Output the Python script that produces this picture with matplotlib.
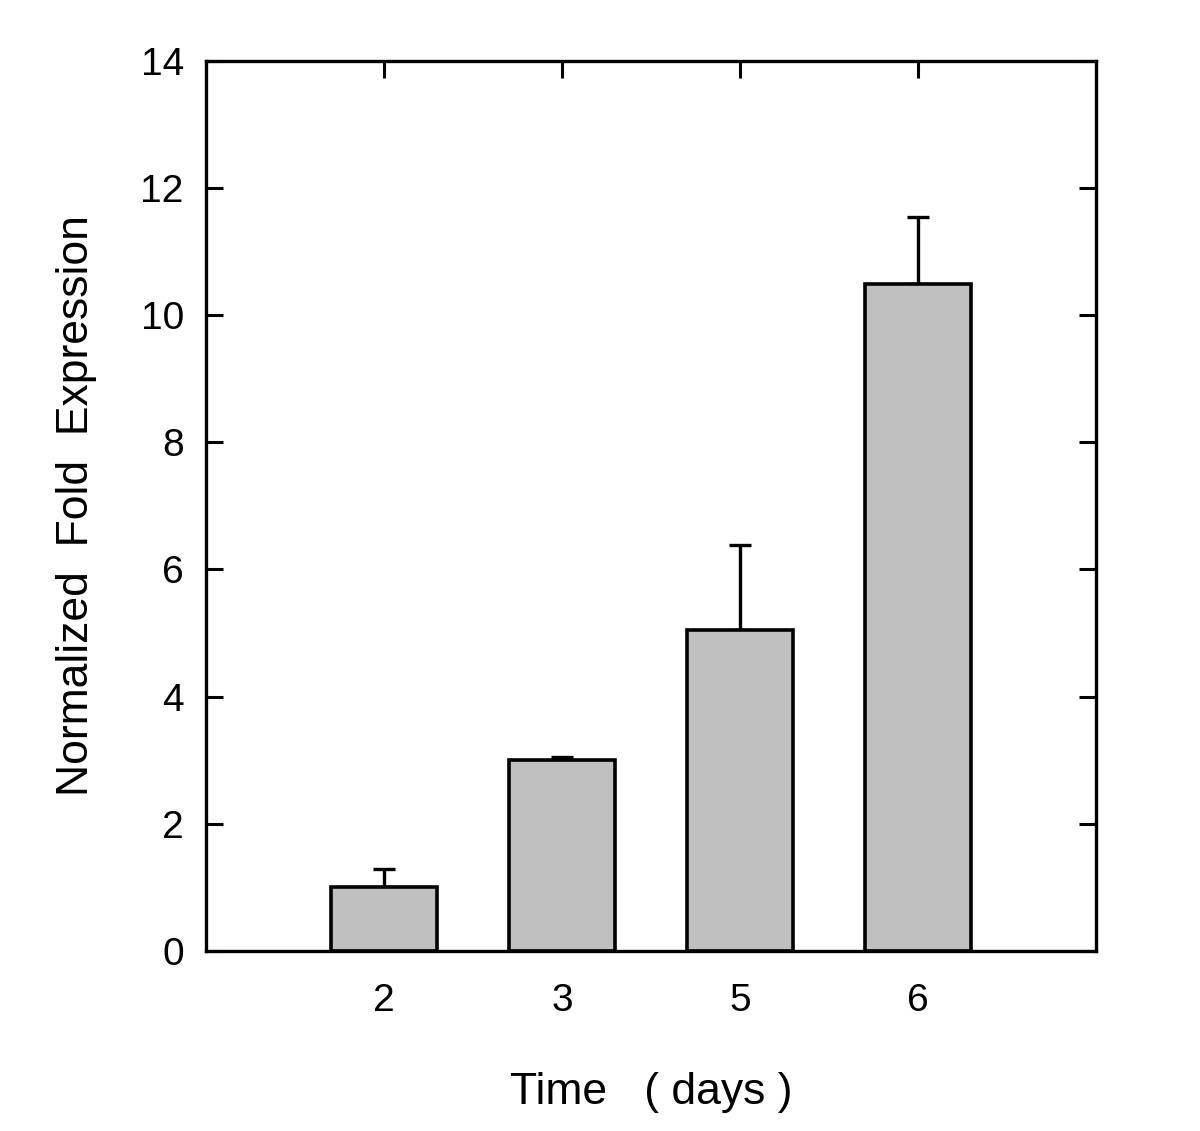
import numpy as np
import matplotlib.pyplot as plt

plt.rcParams['font.family'] = ['Liberation Sans', 'DejaVu Sans']

# дані
days = ['2', '3', '5', '6']
fold = [1.0, 3.0, 5.05, 10.49]
err_up = [0.29, 0.05, 1.34, 1.06]

fig = plt.figure(figsize=(12, 11.31), dpi=100)
ax = fig.add_axes([0.1717, 0.1592, 0.7417, 0.787])

x = np.arange(1, len(days) + 1)
ax.bar(x, fold, width=0.6, color='#c0c0c0', edgecolor='black', linewidth=2.6, zorder=2)
ax.errorbar(x, fold, yerr=[np.zeros(len(fold)), err_up], fmt='none',
            ecolor='black', elinewidth=2.4, capsize=8, capthick=2.4, zorder=1)

ax.set_xlim(0, 5)
ax.set_ylim(0, 14)
ax.set_xticks(x)
ax.set_xticklabels(days)
ax.set_yticks(np.arange(0, 15, 2))

for s in ax.spines.values():
    s.set_linewidth(2.4)

ax.tick_params(axis='x', bottom=False, top=True, direction='in', length=12,
               width=2.2, labelsize=28, pad=23)
ax.tick_params(axis='y', left=True, right=True, direction='in', length=12,
               width=2.2, labelsize=28, pad=16)

ax.set_xlabel('Time   ( days )', fontsize=32, labelpad=38)
ax.set_ylabel('Normalized  Fold  Expression', fontsize=32, labelpad=31)

plt.savefig('out.png', dpi=100)
